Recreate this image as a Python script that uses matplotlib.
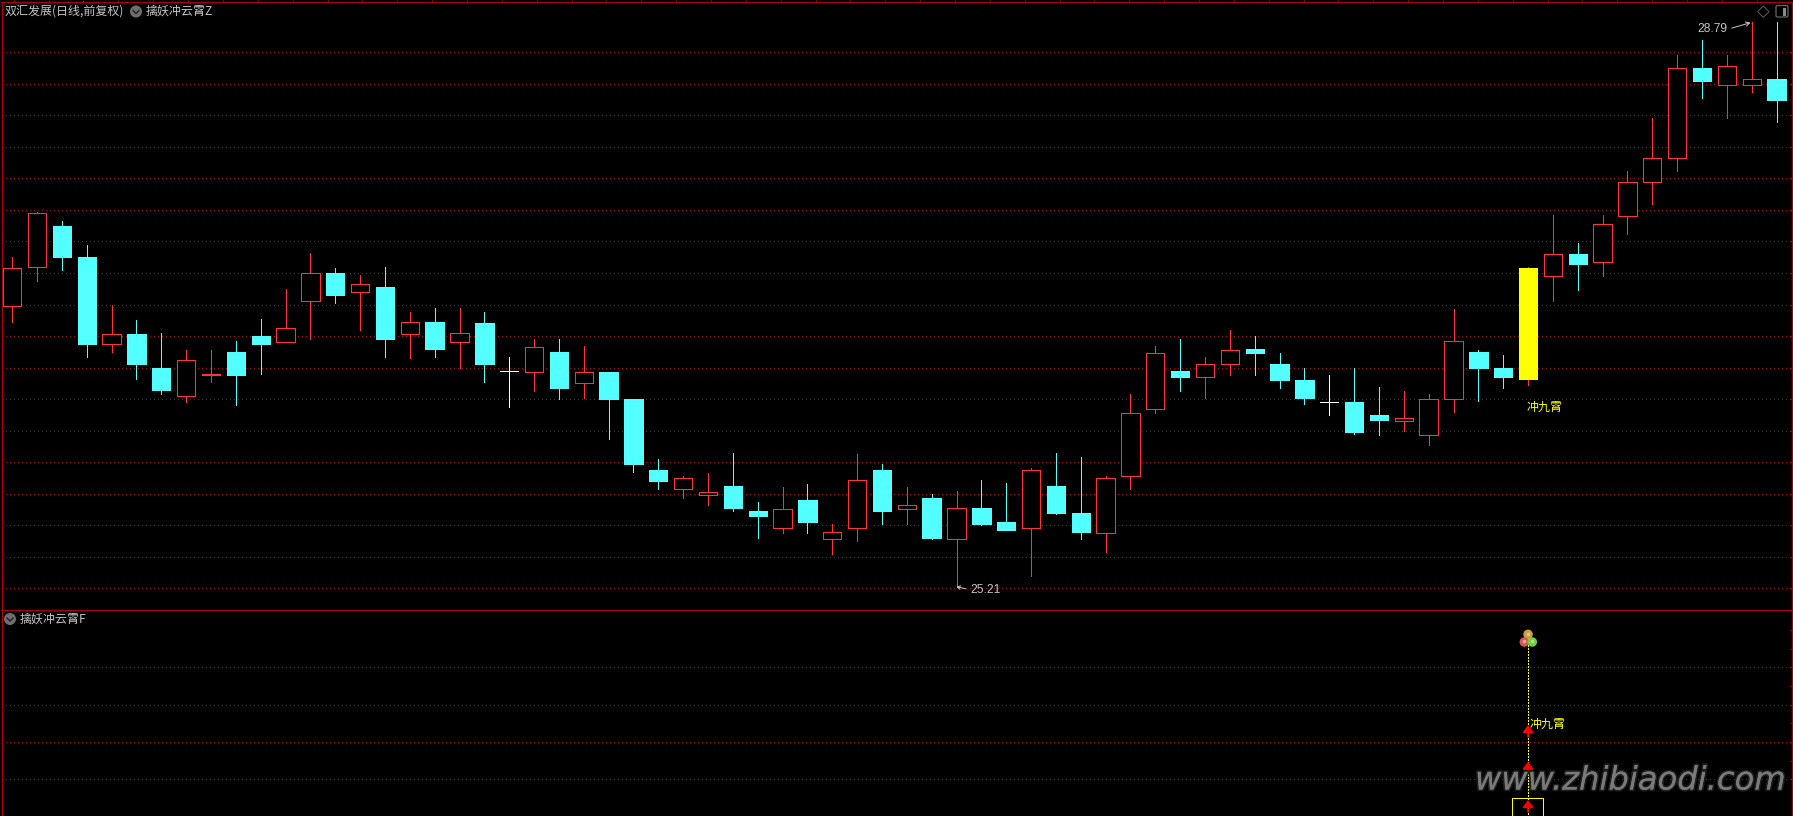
import matplotlib
matplotlib.use("Agg")
import matplotlib.pyplot as plt
import numpy as np
from matplotlib.patches import Rectangle, FancyBboxPatch, Circle, Polygon
import matplotlib.patheffects as pe

plt.rcParams['font.family'] = ['Noto Sans CJK SC', 'DejaVu Sans']
plt.rcParams['axes.axisbelow'] = True

# ---- data (prices) ----
opens = [26.99,27.24,27.50,27.30,26.75,26.81,26.60,26.42,26.55,26.70,
         26.80,26.76,27.02,27.20,27.08,27.11,26.81,26.89,26.76,26.88,
         26.58,26.57,26.70,26.50,26.57,26.40,25.95,25.83,25.79,25.85,
         25.69,25.58,25.76,25.51,25.58,25.95,25.70,25.77,25.51,25.71,
         25.62,25.58,25.85,25.68,25.55,25.91,26.34,26.58,26.54,26.62,
         26.72,26.62,26.52,26.38,26.38,26.30,26.26,26.17,26.40,26.70,
         26.60,26.53,27.18,27.32,27.27,27.56,27.78,27.93,28.50,28.39,
         28.39,28.43]
closes = [27.23,27.58,27.30,26.75,26.81,26.62,26.46,26.65,26.56,26.55,
          26.75,26.85,27.20,27.06,27.13,26.78,26.89,26.72,26.82,26.62,
          26.58,26.73,26.47,26.57,26.40,25.99,25.88,25.90,25.81,25.71,
          25.66,25.70,25.62,25.56,25.89,25.69,25.73,25.52,25.71,25.61,
          25.57,25.95,25.68,25.56,25.90,26.31,26.69,26.54,26.62,26.71,
          26.69,26.52,26.41,26.38,26.19,26.27,26.28,26.40,26.77,26.60,
          26.54,27.23,27.32,27.26,27.51,27.78,27.93,28.50,28.42,28.51,
          28.43,28.30]
highs = [27.30,27.59,27.53,27.38,27.00,26.90,26.82,26.71,26.71,26.77,
         26.91,27.10,27.33,27.23,27.19,27.24,26.95,26.98,26.98,26.95,
         26.67,26.78,26.78,26.74,26.57,26.40,26.02,25.91,25.93,26.06,
         25.75,25.84,25.86,25.61,26.05,25.99,25.84,25.80,25.82,25.89,
         25.87,25.96,26.06,26.03,25.91,26.43,26.74,26.78,26.67,26.84,
         26.80,26.69,26.60,26.55,26.60,26.48,26.45,26.43,26.97,26.71,
         26.68,27.24,27.57,27.39,27.57,27.85,28.18,28.58,28.68,28.58,
         28.79,28.79]
lows = [26.89,27.15,27.22,26.67,26.70,26.53,26.43,26.38,26.51,26.36,
        26.56,26.76,26.78,27.01,26.84,26.67,26.66,26.67,26.60,26.51,
        26.35,26.45,26.40,26.41,26.15,25.94,25.83,25.77,25.73,25.69,
        25.52,25.55,25.55,25.42,25.50,25.61,25.61,25.51,25.21,25.60,
        25.57,25.28,25.67,25.51,25.43,25.83,26.31,26.45,26.41,26.55,
        26.55,26.47,26.37,26.30,26.18,26.17,26.20,26.11,26.32,26.39,
        26.47,26.49,27.02,27.09,27.18,27.45,27.64,27.85,28.31,28.18,
        28.35,28.16]
signal_index = 61
price_grid = [25.2,25.4,25.6,25.8,26.0,26.2,26.4,26.6,26.8,27.0,
              27.2,27.4,27.6,27.8,28.0,28.2,28.4,28.6]
signal_grid = [1, 2, 3, 4]
signal_ticks = [1.5, 2.5, 3.5, 4.5, 5.0]
arrow_tops = [0.445, 1.471, 2.455]
stem_top = 5.0
ball_x = [61.0, 60.85, 61.17]
ball_y = [4.884, 4.678, 4.678]
ball_colors = ['#c8a040', '#d85858', '#70d040']
label_title = '双汇发展(日线,前复权)'
label_main = '擒妖冲云霄Z'
label_sub = '擒妖冲云霄F'
label_signal = '冲九霄'
watermark = 'www.zhibiaodi.com'

RED = '#ff3333'
CYAN = '#54ffff'
FRAME = '#b00000'
GRID = '#a01010'
GRAY = '#c4c4c4'
YEL = '#ffff00'
PX = 0.72  # one pixel in points at dpi 100

W, H = 1793, 816
fig = plt.figure(figsize=(W / 100, H / 100), dpi=100, facecolor='black')

left, right = 1.5, 1791.7
xlim = ((left - 12.2) / 24.85, (right - 12.2) / 24.85)

ax = fig.add_axes([left / W, (H - 610.3) / H, (right - left) / W, (610.3 - 1.5) / H], facecolor='black')
ax2 = fig.add_axes([left / W, 0, (right - left) / W, (H - 610.3) / H], facecolor='black')

for a in (ax, ax2):
    a.set_xlim(*xlim)
    for s in a.spines.values():
        s.set_color(FRAME)
        s.set_linewidth(PX)
    a.yaxis.tick_right()
    a.tick_params(axis='y', direction='in', length=1.5, width=PX, color=FRAME, labelright=False)
    a.grid(axis='y', linestyle=(0, (1, 3)), linewidth=PX, color=GRID, antialiased=False)
    a.tick_params(axis='x', bottom=False, labelbottom=False, top=False)

ax.set_ylim(25.0605, 28.9221)
ax.set_yticks(price_grid)
ax.set_xticks(np.arange(1.4 / 24.85 * 10 - 0.5, 71.6, 34.86 / 24.85))
ax.tick_params(axis='x', top=True, direction='out', length=1.2, width=PX, color=FRAME, labeltop=False)

ax2.set_ylim(0.0169, 5.527)
ax2.set_yticks(signal_grid)
ax2.set_yticks(signal_ticks, minor=True)
ax2.tick_params(axis='y', which='minor', direction='in', length=1.5, width=PX, color=FRAME)
ax2.spines['bottom'].set_visible(False)

# ---- candles ----
idx = np.arange(len(opens))
o, c, hi, lo = map(np.array, (opens, closes, highs, lows))
wick_colors = [RED if c[i] > o[i] else (CYAN if c[i] < o[i] else 'white') for i in idx]
ax.vlines(idx, lo, hi, colors=wick_colors, linewidth=PX, zorder=3, antialiased=False)
faces, edges = [], []
for i in idx:
    if i == signal_index:
        faces.append(YEL); edges.append(YEL)
    elif c[i] > o[i]:
        faces.append('black'); edges.append(RED)
    elif c[i] < o[i]:
        faces.append(CYAN); edges.append(CYAN)
    else:
        faces.append('white'); edges.append('white')
ax.bar(idx, np.abs(c - o), bottom=np.minimum(o, c), width=0.74, color=faces, edgecolor=edges,
       linewidth=PX, zorder=4, antialiased=False)

# ---- price labels ----
ax.annotate(f'{lows[38]:.2f}', xy=(38, lows[38]), xytext=(13.5 * PX, -3 * PX), textcoords='offset points',
            color=GRAY, fontsize=12 * PX, family='Liberation Sans', va='center', ha='left', zorder=6,
            arrowprops=dict(arrowstyle='->,head_length=0.25,head_width=0.15', color=GRAY, lw=PX,
                            shrinkA=1, shrinkB=0, relpos=(0, 0.5)))
ax.annotate(f'{highs[70]:.2f}', xy=(70, highs[70]), xytext=(-24 * PX, -7 * PX), textcoords='offset points',
            color=GRAY, fontsize=12 * PX, family='Liberation Sans', va='center', ha='right', zorder=6,
            arrowprops=dict(arrowstyle='->,head_length=0.3,head_width=0.18', color=GRAY, lw=PX,
                            shrinkA=1, shrinkB=1, relpos=(1, 0.5)))
ax.text(signal_index - 0.05, 26.347, label_signal, color=YEL, fontsize=12 * PX, va='center', ha='left', zorder=6)

# ---- signal pane ----
ax2.vlines(signal_index, 0, stem_top, colors=YEL, linewidth=PX, linestyles=(0, (1.5, 1.5)), zorder=3, antialiased=False)
ax2.add_patch(Rectangle((60.35, -1), 1.24, 1.491, fill=False, edgecolor=YEL, linewidth=PX, zorder=3, antialiased=False))
for top in arrow_tops:
    ax2.annotate('', xy=(signal_index, top), xytext=(0, -12 * PX), textcoords='offset points', zorder=6,
                 arrowprops=dict(arrowstyle='-|>,head_length=0.36,head_width=0.27', color='#ff0000',
                                 lw=1.6 * PX, shrinkA=0, shrinkB=0, mutation_scale=12))
ax2.scatter(ball_x, ball_y, s=(9.5 * PX) ** 2, c=ball_colors, zorder=5, linewidths=0)
ax2.scatter(ball_x, np.array(ball_y) + 0.02, s=(3.5 * PX) ** 2, c='#f4f0e0', alpha=0.5, zorder=6, linewidths=0)
ax2.text(signal_index + 0.06, 2.48, label_signal, color=YEL, fontsize=12 * PX, va='center', ha='left', zorder=6)

# ---- overlay in pixels: titles, icons, watermark ----
ov = fig.add_axes([0, 0, 1, 1], facecolor='none')
ov.set_xlim(0, W)
ov.set_ylim(H, 0)
ov.axis('off')

ov.text(4.5, 11, label_title, color=GRAY, fontsize=12 * PX, va='center', ha='left')
ov.text(146, 11, label_main, color=GRAY, fontsize=12 * PX, va='center', ha='left')
ov.text(20, 619, label_sub, color=GRAY, fontsize=12 * PX, va='center', ha='left')
for cx, cy in ((136, 11.5), (10, 619)):
    ov.add_patch(Circle((cx, cy), 6, color='#6e6e6e', lw=0))
    ov.plot([cx - 3, cx, cx + 3], [cy - 1, cy + 2, cy - 1], color='#1c1c1c', lw=1.3 * PX)

ov.add_patch(Polygon([(1763.3, 6), (1769, 11.7), (1763.3, 17.4), (1757.6, 11.7)], closed=True, fill=False,
                     edgecolor='#5c5c5c', lw=PX))
ov.add_patch(FancyBboxPatch((1777, 6.5), 10, 9.5, boxstyle='round,pad=1,rounding_size=1.5', fill=False,
                            edgecolor='#6a6a6a', lw=1.2 * PX))
ov.add_patch(Rectangle((1782.5, 7.5), 3.5, 8, color='#8a8a8a', lw=0))

ov.text(1475, 781, watermark, color='#7a7a7a', fontsize=32.2 * PX, family='DejaVu Sans', style='oblique',
        va='center', ha='left', zorder=10,
        path_effects=[pe.withStroke(linewidth=2.5, foreground='#1e1e1e'), pe.Normal()])

fig.savefig('out.png', dpi=100, facecolor='black')
